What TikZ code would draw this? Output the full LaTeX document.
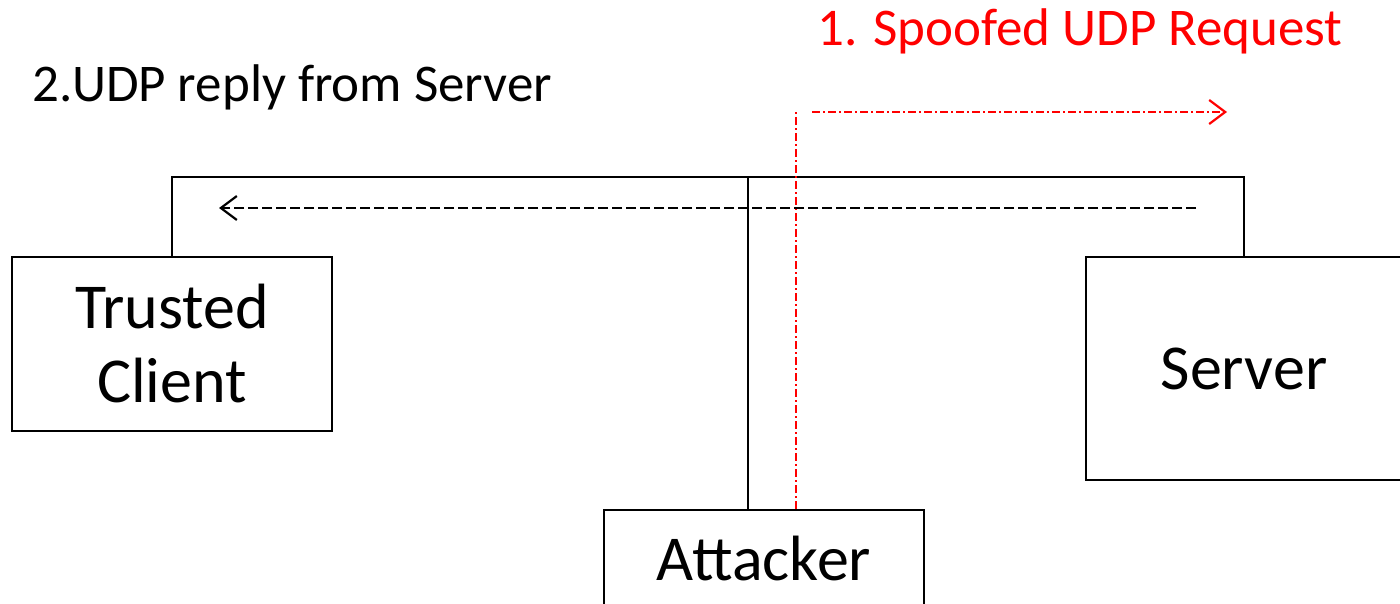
\documentclass[tikz,border=0pt]{standalone}
\usepackage{fontspec}
\setmainfont{Carlito}
\usetikzlibrary{arrows.meta}
\tikzset{
  box/.style={draw, line width=2.2pt, rectangle, inner sep=0pt, align=center,
              font=\fontsize{64}{74}\selectfont},
  wire/.style={line width=2.2pt},
  tip/.style={-{Straight Barb[length=16pt,width=24pt,line width=2.2pt]}},
  reply/.style={line width=2.2pt, dash pattern=on 10pt off 4pt, tip},
  spoof/.style={red, line width=2.2pt, dash pattern=on 8pt off 3pt on 2pt off 3pt},
  spoofarrow/.style={spoof, tip},
  caption/.style={font=\fontsize{53}{62}\selectfont, inner sep=0pt, anchor=base west},
}
\begin{document}
\begin{tikzpicture}[x=1pt,y=-1pt]
\useasboundingbox (0,0) rectangle (1400,604);

% hosts
\node[box, minimum width=320pt, minimum height=174pt] (tc) at (172,344) {Trusted\\Client};
\node[box, minimum width=316pt, minimum height=223pt] (srv) at (1244,368.5) {Server};
\node[box, minimum width=320pt, minimum height=120pt] (att) at (764,570) {};
\node[font=\fontsize{64}{74}\selectfont, inner sep=0pt, anchor=base] (attlbl) at (764,580) {Attacker};

% shared link between client and server
\coordinate (tcup) at (172,177);
\coordinate (srvup) at (1244,177);
\draw[wire] (tc.north) -- (tcup) -- (srvup) -- (srv.north);

% attacker tap onto the link
\coordinate (tap) at (748,177);
\draw[wire] (att.north -| tap) -- (tap);

% spoofed request path
\coordinate (spoofup) at (796,112);
\draw[spoof] (att.north -| spoofup) -- (spoofup);
\coordinate (reqstart) at (812,112);
\coordinate (reqend) at (1227,112);
\draw[spoofarrow] (reqstart) -- (reqend);

% reply from server to client
\coordinate (repstart) at (1196,208);
\coordinate (repend) at (219,208);
\draw[reply] (repstart) -- (repend);

% captions
\node[caption, text=red] (cap1) at (817,46) {1. Spoofed UDP Request};
\node[caption] (cap2) at (32,102) {2.UDP reply from Server};
\end{tikzpicture}
\end{document}
